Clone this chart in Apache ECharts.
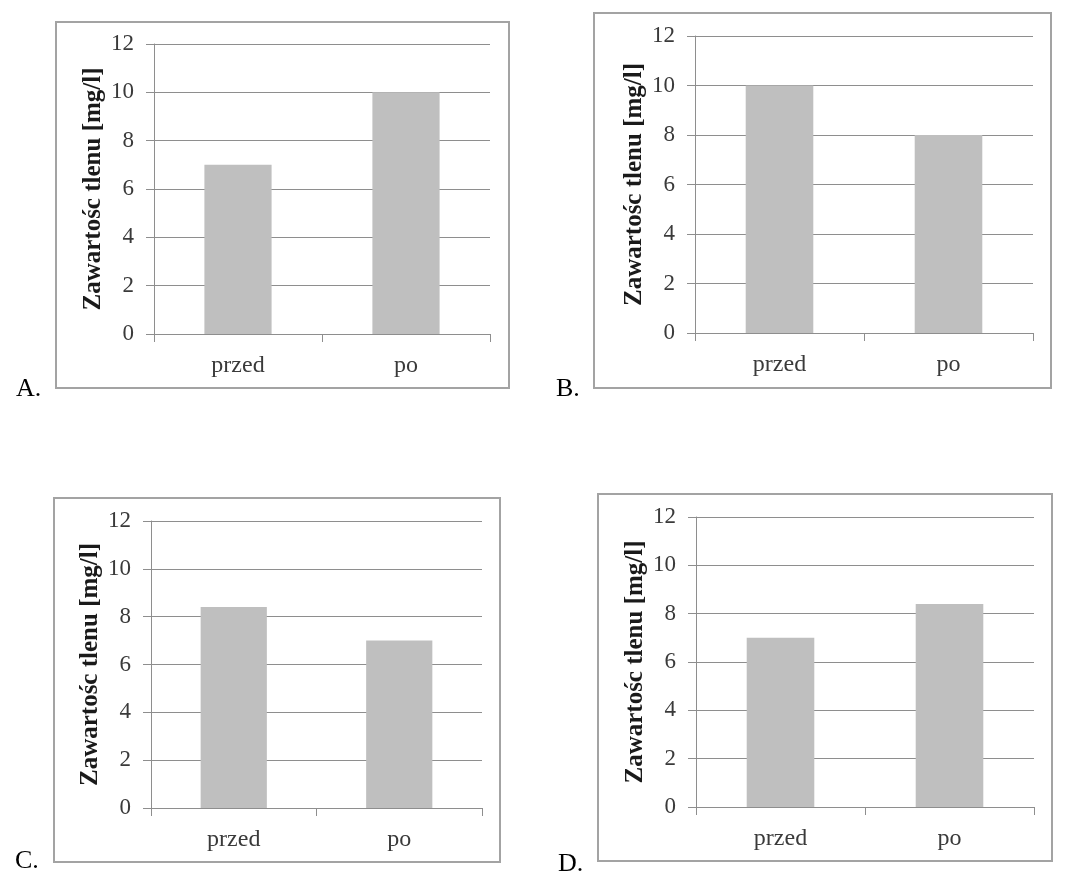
<!DOCTYPE html>
<html>
<head>
<meta charset="utf-8">
<script src="https://cdn.jsdelivr.net/npm/echarts@6/dist/echarts.min.js"></script>
<style>
  html, body { margin: 0; padding: 0; background: #ffffff; }
  #chart { width: 1081px; height: 895px; }
</style>
</head>
<body>
<div id="chart"></div>
<script>
// ---- data ----
const categories = ['przed', 'po'];
const valuesA = [7, 10];
const valuesB = [10, 8];
const valuesC = [8.4, 7];
const valuesD = [7, 8.4];
const panelLetters = ['A.', 'B.', 'C.', 'D.'];
const yTitle = 'Zawartośc tlenu [mg/l]';
const yMin = 0, yMax = 12, yStep = 2;

// ---- layout (pixels) ----
const grids = [
  { left: 154, top: 44,  width: 336, height: 290 },
  { left: 695, top: 36,  width: 338, height: 297 },
  { left: 151, top: 521, width: 331, height: 287 },
  { left: 696, top: 517, width: 338, height: 290 }
];
const frames = [
  { x: 56,  y: 22,  w: 453, h: 366 },
  { x: 594, y: 13,  w: 457, h: 375 },
  { x: 54,  y: 498, w: 446, h: 364 },
  { x: 598, y: 494, w: 454, h: 367 }
];
const letterPos = [
  { x: 16,  y: 402 },
  { x: 556, y: 402 },
  { x: 15,  y: 874 },
  { x: 558, y: 877 }
];
const seriesValues = [valuesA, valuesB, valuesC, valuesD];

const serif = '"Liberation Serif", "DejaVu Serif", serif';
const gridColor = '#8e8e8e';

const option = {
  backgroundColor: '#ffffff',
  animation: false,
  grid: grids.map(g => Object.assign({ containLabel: false, outerBoundsMode: 'none' }, g)),
  xAxis: grids.map((g, i) => ({
    type: 'category',
    gridIndex: i,
    data: categories,
    axisLine: { show: true, lineStyle: { color: gridColor, width: 1 } },
    axisTick: { show: true, length: 8, inside: false, lineStyle: { color: gridColor } },
    axisLabel: { color: '#3a3a3a', fontFamily: serif, fontSize: 24, margin: 20 },
    splitLine: { show: false }
  })),
  yAxis: grids.map((g, i) => ({
    type: 'value',
    gridIndex: i,
    min: yMin, max: yMax, interval: yStep,
    name: yTitle,
    nameLocation: 'middle',
    nameRotate: 90,
    nameGap: 48,
    nameTextStyle: { fontFamily: serif, fontWeight: 'bold', fontSize: 25, color: '#1a1a1a' },
    axisLine: { show: true, lineStyle: { color: gridColor, width: 1 } },
    axisTick: { show: true, length: 8, lineStyle: { color: gridColor } },
    axisLabel: { color: '#3a3a3a', fontFamily: serif, fontSize: 23, margin: 20 },
    splitLine: { show: true, lineStyle: { color: gridColor, width: 1 } }
  })),
  series: seriesValues.map((vals, i) => ({
    type: 'bar',
    xAxisIndex: i,
    yAxisIndex: i,
    data: vals,
    barWidth: '40%',
    itemStyle: { color: '#bfbfbf' },
    z: 3
  })),
  graphic: [
    ...frames.map(f => ({
      type: 'rect',
      shape: { x: f.x, y: f.y, width: f.w, height: f.h },
      style: { fill: null, stroke: '#a3a3a3', lineWidth: 2 },
      z: 10,
      silent: true
    })),
    ...letterPos.map((p, i) => ({
      type: 'text',
      x: p.x, y: p.y,
      style: {
        text: panelLetters[i],
        font: '26px ' + serif,
        fill: '#000000',
        textAlign: 'left',
        textVerticalAlign: 'bottom'
      },
      z: 10
    }))
  ]
};

const chart = echarts.init(document.getElementById('chart'), null, { renderer: 'canvas' });
chart.setOption(option);
</script>
</body>
</html>
